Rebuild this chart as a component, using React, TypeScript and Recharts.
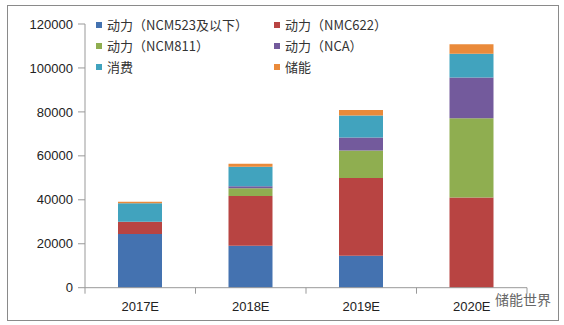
import React from 'react';
import { BarChart, Bar, XAxis, YAxis, Legend } from 'recharts';

const categories = ['2017E', '2018E', '2019E', '2020E'];
const ncm523 = [24400, 19100, 14500, 0];
const nmc622 = [5600, 22600, 35400, 41100];
const ncm811 = [0, 3500, 12500, 36000];
const nca = [0, 1000, 6000, 18500];
const consumer = [8400, 8800, 10000, 10900];
const storage = [700, 1400, 2500, 4300];
const yTicks = [0, 20000, 40000, 60000, 80000, 100000, 120000];

const seriesNames = ['动力（NCM523及以下）', '动力（NMC622）', '动力（NCM811）', '动力（NCA）', '消费', '储能'];
const seriesKeys = ['ncm523', 'nmc622', 'ncm811', 'nca', 'consumer', 'storage'];
const colors = ['#4472B0', '#B84442', '#8FAE50', '#735A9C', '#41A3BE', '#EA8A3A'];

const data = categories.map((c, i) => ({
  name: c,
  ncm523: ncm523[i],
  nmc622: nmc622[i],
  ncm811: ncm811[i],
  nca: nca[i],
  consumer: consumer[i],
  storage: storage[i],
}));

const FONT = '"Liberation Sans", Arial, "Noto Sans CJK SC", sans-serif';

const LegendContent = () => (
  <div style={{ display: 'grid', gridTemplateColumns: '178px 178px', fontFamily: '"Noto Sans CJK SC", sans-serif', fontSize: 13, color: '#333' }}>
    {seriesNames.map((n, i) => (
      <div key={n} style={{ display: 'flex', alignItems: 'center', height: 21 }}>
        <span style={{ width: 6, height: 6, background: colors[i], marginRight: 5, display: 'inline-block' }} />
        <span>{n}</span>
      </div>
    ))}
  </div>
);

const XTick = (props: any) => {
  const { x, y, payload, index } = props;
  const half = 55.25;
  return (
    <g>
      {index === 0 && <line x1={x - half} y1={y - 8} x2={x - half} y2={y - 2} stroke="#999" />}
      <line x1={x + half} y1={y - 8} x2={x + half} y2={y - 2} stroke="#999" />
      <text x={x} y={y + 15} textAnchor="middle" fontSize={13} fontFamily={FONT} fill="#222">{payload.value}</text>
    </g>
  );
};

export default function App() {
  return (
    <div style={{ position: 'absolute', left: 0, top: 0, width: 564, height: 325, background: '#fff' }}>
      <div style={{ position: 'absolute', left: 7, top: 5, width: 550, height: 314, border: '1px solid #8a8a8a' }} />
      <div style={{ position: 'absolute', left: 0, top: 0 }}>
        <BarChart width={564} height={325} data={data} margin={{ top: 24, right: 37, bottom: 7, left: 0 }} barSize={44}>
          <XAxis dataKey="name" height={30.3} axisLine={{ stroke: '#999' }} tickLine={false} tick={<XTick />} interval={0} />
          <YAxis
            domain={[0, 120000]}
            ticks={yTicks}
            width={85}
            axisLine={{ stroke: '#999' }}
            tickLine={{ stroke: '#999' }}
            tickSize={7}
            tickMargin={5}
            tick={{ fontSize: 13, fontFamily: FONT, fill: '#222' }}
            interval={0}
          />
          <Legend content={<LegendContent />} layout="vertical" verticalAlign="middle" align="center" wrapperStyle={{ top: 14, left: 96, width: 360, height: 63 }} />
          {seriesKeys.map((k, i) => (
            <Bar key={k} dataKey={k} name={seriesNames[i]} stackId="a" fill={colors[i]} isAnimationActive={false} />
          ))}
        </BarChart>
      </div>
      <div style={{ position: 'absolute', left: 495, top: 289, fontFamily: '"Noto Sans CJK SC", sans-serif', fontSize: 14, color: '#666' }}>储能世界</div>
    </div>
  );
}
